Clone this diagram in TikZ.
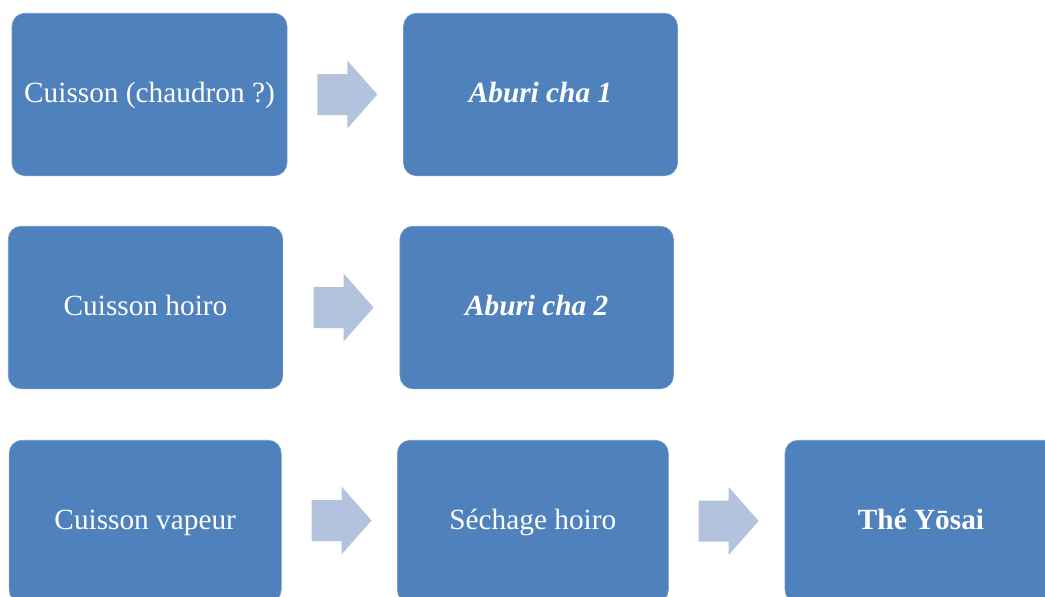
\documentclass[tikz,border=0pt]{standalone}
\usepackage{fontspec}
\setmainfont{Liberation Serif}
\usetikzlibrary{calc}
\definecolor{boxblue}{HTML}{4F81BD}
\definecolor{boxedge}{HTML}{6E98CB}
\definecolor{arrowblue}{HTML}{B3C2DD}
\tikzset{
  stepbox/.style={rectangle, rounded corners=13pt, fill=boxblue, draw=boxedge, line width=0.6pt,
    text=white, inner sep=0pt, minimum height=162.5pt, text height=22pt, text depth=6pt,
    font=\fontsize{29.3}{34}\selectfont},
  blockarrow/.style={fill=arrowblue}
}
\newcommand{\myblockarrow}[1]{%
  \fill[blockarrow] ($(#1)+(0,-20.5)$) -- ++(30,0) -- ++(0,-13.5) -- ++(30,34)
    -- ++(-30,34) -- ++(0,-13.5) -- ++(-30,0) -- cycle;}
\begin{document}
\begin{tikzpicture}[x=1pt,y=-1pt]
\useasboundingbox (0,0) rectangle (1045,597);
\fill[white] (0,0) rectangle (1045,597);
\clip (0,0) rectangle (1045,597);
% row 1
\node[stepbox, minimum width=275pt] (a) at (149.5,94.5) {Cuisson (chaudron ?)};
\node[stepbox, minimum width=274pt] (b) at (540.5,94.5) {\textbf{\textit{Aburi cha 1}}};
% row 2
\node[stepbox, minimum width=274.5pt] (c) at (145.5,307.5) {Cuisson hoiro};
\node[stepbox, minimum width=273.5pt] (d) at (536.7,307.5) {\textbf{\textit{Aburi cha 2}}};
% row 3
\node[stepbox, minimum width=272pt] (e) at (145.2,521.5) {Cuisson vapeur};
\node[stepbox, minimum width=271pt] (f) at (532.8,521.5) {Séchage hoiro};
\node[stepbox, minimum width=272pt] (g) at (921,521.5) {\textbf{Thé Yōsai}};
% arrows
\coordinate (ab) at ($(a.east)+(30,0)$);
\coordinate (cd) at ($(c.east)+(30.5,0)$);
\coordinate (ef) at ($(e.east)+(30,-1)$);
\coordinate (fg) at ($(f.east)+(30,-0.5)$);
\myblockarrow{ab}
\myblockarrow{cd}
\myblockarrow{ef}
\myblockarrow{fg}
\end{tikzpicture}
\end{document}
